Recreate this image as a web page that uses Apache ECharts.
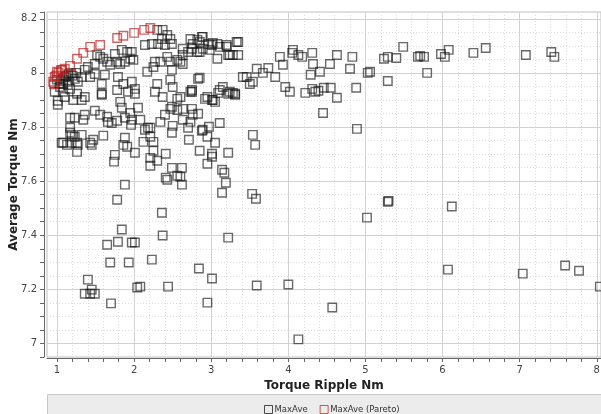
<!DOCTYPE html>
<html>
<head>
<meta charset="utf-8">
<script src="https://cdn.jsdelivr.net/npm/echarts@6/dist/echarts.min.js"></script>
<style>
  html, body { margin: 0; padding: 0; background: #fff; }
  #main { width: 601px; height: 414px; }
</style>
</head>
<body>
<div id="main"></div>
<script>
// tick labels / tick positions for the x axis
const xLabels = [1, 2, 3, 4, 5, 6, 7, 8];
const xTicks = [1, 1.2, 1.4, 1.6, 1.8, 2, 2.2, 2.4, 2.6, 2.8, 3, 3.2, 3.4, 3.6, 3.8, 4, 4.2, 4.4, 4.6, 4.8,
  5, 5.2, 5.4, 5.6, 5.8, 6, 6.2, 6.4, 6.6, 6.8, 7, 7.2, 7.4, 7.6, 7.8, 8];

// MaxAve (Pareto) - [torque ripple, average torque]
const pareto = [
  [0.95, 7.967], [0.96, 7.958], [0.97, 7.985], [0.99, 7.99], [1.0, 8.004], [1.02, 8.0], [1.05, 8.01],
  [1.065, 8.011], [1.1, 8.015], [1.17, 8.026], [1.26, 8.052], [1.34, 8.074], [1.43, 8.096], [1.56, 8.103],
  [1.78, 8.129], [1.86, 8.137], [2.0, 8.148], [2.13, 8.159], [2.21, 8.166]
];

// MaxAve - [torque ripple, average torque]
const maxAve = [
  // far right, upper band
  [4.18, 8.059], [4.31, 8.074], [4.32, 8.033], [4.29, 7.993], [4.41, 8.004], [4.54, 8.033], [4.63, 8.066],
  [4.83, 8.059], [4.80, 8.015], [5.03, 8.000], [5.06, 8.004], [5.24, 8.052], [5.29, 8.059], [5.40, 8.055],
  [5.49, 8.096], [5.68, 8.059], [5.71, 8.063], [5.76, 8.059], [5.80, 8.000], [5.98, 8.070], [6.03, 8.059],
  [6.08, 8.085], [6.40, 8.074], [6.56, 8.092], [7.08, 8.066], [7.41, 8.077], [7.45, 8.059],
  [4.22, 7.926], [4.31, 7.941], [4.35, 7.930], [4.39, 7.934], [4.46, 7.945], [4.55, 7.945], [4.63, 7.908],
  [4.88, 7.945], [5.29, 7.970], [4.45, 7.852], [4.89, 7.793],
  // lower scattered
  [5.29, 7.524], [5.30, 7.527], [5.02, 7.465], [6.12, 7.506], [6.07, 7.273], [7.04, 7.258], [7.59, 7.288],
  [7.77, 7.269], [8.04, 7.210], [4.57, 7.133], [4.13, 7.015], [1.78, 7.531], [2.36, 7.483], [1.84, 7.421],
  [1.65, 7.365], [1.79, 7.376], [1.97, 7.373], [2.01, 7.373], [2.37, 7.399], [3.22, 7.391], [1.69, 7.299],
  [1.93, 7.299], [2.23, 7.310], [2.84, 7.277], [3.01, 7.240], [1.40, 7.236], [1.45, 7.199], [1.36, 7.184],
  [1.43, 7.184], [1.49, 7.184], [2.04, 7.207], [2.08, 7.210], [2.44, 7.210], [1.70, 7.148], [2.95, 7.151],
  [3.59, 7.214], [4.00, 7.218], [3.53, 7.553], [3.58, 7.535],
  // middle band
  [2.62, 7.587], [2.43, 7.605], [2.49, 7.649], [2.62, 7.649], [2.60, 7.616], [2.41, 7.701], [2.21, 7.686],
  [2.25, 7.712], [1.75, 7.697], [1.74, 7.672], [3.14, 7.642], [3.17, 7.631], [3.19, 7.594], [3.14, 7.557],
  [3.01, 7.701], [2.85, 7.712], [3.22, 7.705], [3.54, 7.771], [3.57, 7.734], [2.95, 7.664], [3.01, 7.690],
  [2.56, 7.620], [2.41, 7.613], [2.30, 7.675], [2.21, 7.657], [2.71, 7.753], [3.05, 7.742], [2.95, 7.764],
  [3.11, 7.815], [2.97, 7.801], [2.89, 7.790], [2.88, 7.786], [2.70, 7.797], [2.73, 7.819], [2.50, 7.804],
  [2.49, 7.779], [2.34, 7.819], [2.40, 7.845], [2.47, 7.867], [2.56, 7.863], [2.63, 7.867], [2.75, 7.867],
  [2.76, 7.845], [2.83, 7.849], [2.63, 7.827], [2.21, 7.797], [2.25, 7.745], [2.21, 7.764],
  [1.01, 7.882], [1.17, 7.834], [1.23, 7.834], [1.34, 7.827], [1.36, 7.845], [1.49, 7.860], [1.56, 7.845],
  [1.65, 7.838], [1.66, 7.819], [1.71, 7.815], [1.78, 7.823], [1.84, 7.871], [1.88, 7.834], [1.95, 7.852],
  [1.97, 7.827], [2.08, 7.827], [2.05, 7.871], [1.17, 7.779], [1.19, 7.771], [1.23, 7.764], [1.32, 7.771],
  [1.08, 7.742], [1.13, 7.734], [1.19, 7.742], [1.26, 7.742], [1.27, 7.734], [1.43, 7.742], [1.45, 7.734],
  [1.47, 7.753], [1.60, 7.768], [1.26, 7.708], [1.88, 7.760], [1.86, 7.734], [1.91, 7.727], [2.01, 7.705],
  [2.14, 7.790], [2.18, 7.797], [2.12, 7.745], [1.88, 7.587], [1.96, 7.808], [1.17, 7.797], [1.06, 7.742],
  // upper left cluster
  [1.01, 7.897], [1.21, 7.900], [1.32, 7.900], [1.36, 7.911], [1.58, 7.919], [0.97, 7.930], [1.04, 7.948],
  [1.08, 7.959], [1.14, 7.967], [1.23, 7.978], [1.27, 7.967], [1.32, 7.985], [1.43, 7.985], [1.49, 7.996],
  [1.36, 8.011], [1.40, 8.022], [1.49, 8.033], [1.52, 8.066], [1.56, 8.059], [1.60, 8.052], [1.65, 8.041],
  [1.69, 8.030], [1.78, 8.041], [1.82, 8.033], [1.88, 8.041], [1.95, 8.052], [1.99, 8.048], [1.75, 8.070],
  [1.84, 8.085], [1.91, 8.077], [1.97, 8.077], [1.79, 7.985], [1.86, 7.959], [1.97, 7.967], [2.01, 7.941],
  [1.92, 7.930], [1.78, 7.937], [1.82, 7.893], [2.01, 7.923], [1.58, 7.959], [1.62, 7.993], [1.58, 7.923],
  [2.17, 8.004], [2.14, 8.103], [2.23, 8.107], [2.25, 8.022], [1.26, 7.923], [1.10, 7.911], [1.17, 7.941],
  [1.08, 7.930], [1.05, 7.970], [1.10, 7.985], [1.12, 7.990], [1.15, 7.995], [1.18, 8.000], [1.20, 7.990],
  [1.00, 7.975], [1.03, 7.960], [1.08, 7.975], [1.25, 8.000], [1.14, 7.955],
  // top centre cluster
  [2.30, 8.159], [2.37, 8.159], [2.43, 8.140], [2.36, 8.125], [2.31, 8.107], [2.40, 8.103], [2.47, 8.125],
  [2.49, 8.107], [2.27, 8.041], [2.34, 8.041], [2.43, 8.059], [2.47, 8.041], [2.49, 8.011], [2.56, 8.048],
  [2.60, 8.041], [2.63, 8.066], [2.63, 8.089], [2.73, 8.125], [2.76, 8.107], [2.88, 8.133], [2.85, 8.114],
  [2.89, 8.089], [2.85, 8.077], [2.96, 8.107], [3.01, 8.103], [3.08, 8.052], [3.20, 8.103], [3.22, 8.066],
  [3.28, 8.066], [3.35, 8.066], [3.33, 8.114], [3.08, 8.107], [2.70, 8.077], [2.75, 8.089], [2.63, 8.033],
  [2.82, 8.077], [2.98, 8.085], [3.41, 7.985], [3.50, 7.959], [3.59, 8.015], [2.83, 7.978], [2.30, 7.959],
  [2.47, 7.974], [2.50, 7.948], [2.27, 7.930], [2.37, 7.911], [2.56, 7.904], [2.60, 7.911], [2.73, 7.930],
  [2.75, 7.937], [2.92, 7.904], [3.01, 7.900], [3.05, 7.893], [3.11, 7.937], [3.15, 7.948], [3.22, 7.923],
  [3.31, 7.923], [3.24, 7.930], [2.49, 7.875],
  [2.82, 8.122], [2.89, 8.133], [3.02, 8.111], [3.11, 8.096], [3.20, 8.096], [3.35, 8.114], [3.24, 8.066],
  [3.46, 7.985], [3.54, 7.967], [3.67, 8.000], [3.74, 8.018], [3.83, 7.985], [3.89, 8.059], [3.96, 7.948],
  [4.02, 7.930], [3.93, 8.030], [4.05, 8.074], [4.06, 8.085], [4.13, 8.066], [2.85, 7.982], [2.75, 7.930],
  [2.95, 7.911], [3.02, 7.900], [3.09, 7.926], [3.28, 7.926], [3.31, 7.919]
];

const chart = echarts.init(document.getElementById('main'));

const font = 'DejaVu Sans';
const hidden = { show: false };

const option = {
  animation: false,
  backgroundColor: '#fff',
  textStyle: { fontFamily: font },
  grid: {
    left: 47, right: 0, top: 12, bottom: 57,
    outerBoundsMode: 'none', containLabel: false,
    show: true, borderColor: '#bdbdbd', borderWidth: 1, backgroundColor: '#fff'
  },
  graphic: [{
    type: 'rect',
    left: 47, top: 394,
    shape: { width: 560, height: 22 },
    style: { fill: '#ececec', stroke: '#c8c8c8', lineWidth: 1 },
    z: -1
  }],
  legend: {
    left: 259, top: 400,
    itemWidth: 8, itemHeight: 8, itemGap: 12,
    icon: 'rect',
    textStyle: { fontFamily: font, fontSize: 8.5, color: '#333', padding: [0, 0, 0, -3] },
    data: [
      { name: 'MaxAve', itemStyle: { color: 'transparent', borderColor: '#222', borderWidth: 1 } },
      { name: 'MaxAve (Pareto)', itemStyle: { color: 'transparent', borderColor: '#c03030', borderWidth: 1 } }
    ]
  },
  xAxis: [
    { // dotted minor grid
      type: 'value', position: 'bottom', min: 0.87, max: 8.055,
      axisLine: hidden, axisLabel: hidden,
      axisTick: { show: false, customValues: xTicks },
      splitLine: { show: true, lineStyle: { color: '#dcdcdc', type: [1, 2], width: 1 } }
    },
    { // solid major grid
      type: 'value', position: 'bottom', min: 0.87, max: 8.055,
      axisLine: hidden, axisLabel: hidden,
      axisTick: { show: false, customValues: xLabels },
      splitLine: { show: true, lineStyle: { color: '#d2d2d2', width: 1 } }
    },
    { // visible axis
      type: 'value', position: 'bottom', min: 0.87, max: 8.055, offset: 1,
      name: 'Torque Ripple Nm', nameLocation: 'middle', nameGap: 17,
      nameTextStyle: { fontFamily: font, fontWeight: 'bold', fontSize: 12, color: '#222' },
      axisLine: { show: true, lineStyle: { color: '#666', width: 1 } },
      axisTick: { show: true, length: 4, customValues: xTicks, lineStyle: { color: '#666' } },
      axisLabel: { customValues: xLabels, margin: 7, fontSize: 10, color: '#444', fontFamily: font },
      splitLine: hidden
    }
  ],
  yAxis: [
    { // dotted minor grid every 0.05
      type: 'value', position: 'left', min: 6.95, max: 8.225, interval: 0.05,
      axisLine: hidden, axisLabel: hidden, axisTick: hidden,
      splitLine: { show: true, lineStyle: { color: '#dcdcdc', type: [1, 2], width: 1 } }
    },
    { // solid major grid every 0.2 (colour cycle picks every 4th line)
      type: 'value', position: 'left', min: 6.95, max: 8.225, interval: 0.05,
      axisLine: hidden, axisLabel: hidden, axisTick: hidden,
      splitLine: { show: true, lineStyle: { color: ['rgba(0,0,0,0)', '#d2d2d2', 'rgba(0,0,0,0)', 'rgba(0,0,0,0)'], width: 1 } }
    },
    { // visible axis
      type: 'value', position: 'left', min: 6.95, max: 8.225, interval: 0.05, offset: 3,
      name: 'Average Torque Nm', nameLocation: 'middle', nameGap: 24, nameRotate: 90,
      nameMoveOverlap: false,
      nameTextStyle: { fontFamily: font, fontWeight: 'bold', fontSize: 12, color: '#222' },
      axisLine: { show: true, lineStyle: { color: '#666', width: 1 } },
      axisTick: { show: true, length: 4, lineStyle: { color: '#666' } },
      axisLabel: {
        margin: 7, fontSize: 10, color: '#444', fontFamily: font,
        formatter: (v) => {
          const k = v * 5;
          return Math.abs(k - Math.round(k)) < 1e-6 ? String(+v.toFixed(1)) : '';
        }
      },
      splitLine: hidden
    }
  ],
  series: [
    {
      name: 'MaxAve', type: 'scatter', xAxisIndex: 2, yAxisIndex: 2,
      symbol: 'rect', symbolSize: 8.5,
      itemStyle: { color: 'transparent', borderColor: 'rgba(20,20,20,0.8)', borderWidth: 1.4 },
      data: maxAve, z: 2
    },
    {
      name: 'MaxAve (Pareto)', type: 'scatter', xAxisIndex: 2, yAxisIndex: 2,
      symbol: 'rect', symbolSize: 8.5,
      itemStyle: { color: 'transparent', borderColor: 'rgba(185,30,30,0.85)', borderWidth: 1.4 },
      data: pareto, z: 3
    }
  ]
};

chart.setOption(option);
</script>
</body>
</html>
